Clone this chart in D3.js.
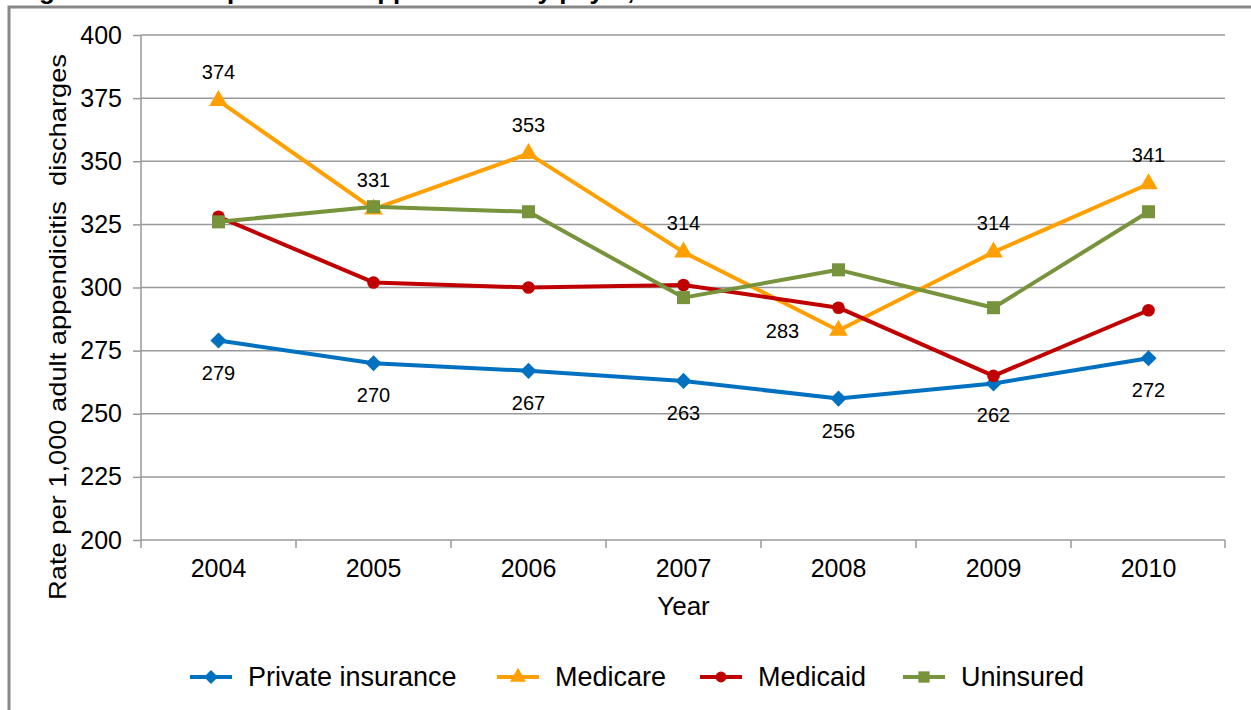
<html>
<head>
<script src='https://d3js.org/d3.v7.min.js'></script>
<style>
body {margin:0; background:white;}
text {font-family: Arial, 'Liberation Sans', sans-serif; fill:#000;}
</style>
</head>
<body>
<svg width=1251 height=710></svg>
<script>
// chart data
var years = ['2004', '2005', '2006', '2007', '2008', '2009', '2010'];
var privateIns = [279, 270, 267, 263, 256, 262, 272];
var medicare = [374, 331, 353, 314, 283, 314, 341];
var medicaid = [328, 302, 300, 301, 292, 265, 291];
var uninsured = [326, 332, 330, 296, 307, 292, 330];
var yTicks = [200, 225, 250, 275, 300, 325, 350, 375, 400];
var seriesNames = ['Private insurance', 'Medicare', 'Medicaid', 'Uninsured'];

var plotLeft = 141, plotRight = 1226, plotTop = 35, plotBottom = 540;

var svg = d3.select('svg');

var xScale = d3.scaleBand().domain(years).range([plotLeft, plotRight]);
var yScale = d3.scaleLinear().domain([200, 400]).range([plotBottom, plotTop]);
var cx = function(i) { return xScale(years[i]) + xScale.bandwidth() / 2; };

// outer frame (chart area border) and clipped title
svg.append('text')
   .attr('x', 16).attr('y', -1)
   .style('font-size', '26px').style('font-weight', 'bold')
   .text('Figure 2. Rate of perforated appendicitis by payer, 2004-2010');
svg.append('path')
   .attr('d', 'M9,720 L9,7 L1260,7')
   .attr('fill', 'none').attr('stroke', '#888').attr('stroke-width', 3);

// gridlines
svg.append('g').selectAll('line').data(yTicks.slice(1)).enter().append('line')
   .attr('x1', plotLeft).attr('x2', plotRight - 1)
   .attr('y1', function(d) { return yScale(d); })
   .attr('y2', function(d) { return yScale(d); })
   .attr('stroke', '#999').attr('stroke-width', 1.5);

// y axis
var yAxis = d3.axisLeft(yScale).tickValues(yTicks).tickSize(8).tickPadding(11);
var gy = svg.append('g').attr('transform', 'translate(' + plotLeft + ',0)').call(yAxis);
gy.selectAll('line').attr('stroke', '#999').attr('stroke-width', 1.5);
gy.select('.domain').attr('d', 'M0,' + plotTop + 'V' + (plotBottom + 8)).attr('stroke', '#999').attr('stroke-width', 1.5);
gy.selectAll('text').style('font-size', '25px').style('font-family', 'Arial, Liberation Sans').attr('fill', '#000');

// x axis
var xAxis = d3.axisBottom(xScale).tickSize(0).tickPadding(19);
var gx = svg.append('g').attr('transform', 'translate(0,' + plotBottom + ')').call(xAxis);
gx.select('.domain').attr('d', 'M' + plotLeft + ',0H' + (plotRight - 1)).attr('stroke', '#999').attr('stroke-width', 1.5);
gx.selectAll('text').style('font-size', '25px').style('font-family', 'Arial, Liberation Sans').attr('fill', '#000');
gx.append('g').selectAll('line').data(years.slice(1).concat(['end'])).enter().append('line')
   .attr('x1', function(d) { return d == 'end' ? plotRight - 1 : xScale(d); })
   .attr('x2', function(d) { return d == 'end' ? plotRight - 1 : xScale(d); })
   .attr('y1', 0).attr('y2', 8)
   .attr('stroke', '#999').attr('stroke-width', 1.5);

// axis titles
svg.append('text')
   .attr('x', (plotLeft + plotRight) / 2).attr('y', 615)
   .attr('text-anchor', 'middle').style('font-size', '26px')
   .text('Year');
svg.append('text')
   .attr('transform', 'translate(66,327) rotate(-90)')
   .attr('text-anchor', 'middle').style('font-size', '24px')
   .style('white-space', 'pre')
   .attr('textLength', 546).attr('lengthAdjust', 'spacingAndGlyphs')
   .text('Rate per 1,000 adult appendicitis  discharges');

// series (diamond = square turned 45deg, like Excel)
var series = [
  {name: seriesNames[0], values: privateIns, color: '#0070c0', shape: d3.symbolSquare, size: 130, rot: 45},
  {name: seriesNames[1], values: medicare, color: '#ffa000', shape: d3.symbolTriangle, size: 150, rot: 0},
  {name: seriesNames[2], values: medicaid, color: '#c00000', shape: d3.symbolCircle, size: 125, rot: 0},
  {name: seriesNames[3], values: uninsured, color: '#77933c', shape: d3.symbolSquare, size: 170, rot: 0}
];

var line = d3.line()
   .x(function(d, i) { return cx(i); })
   .y(function(d) { return yScale(d); });

series.forEach(function(s) {
  var g = svg.append('g');
  g.append('path').datum(s.values)
   .attr('d', line).attr('fill', 'none')
   .attr('stroke', s.color).attr('stroke-width', 4).attr('stroke-linejoin', 'round');
  g.selectAll('path.pt').data(s.values).enter().append('path')
   .attr('class', 'pt')
   .attr('d', d3.symbol().type(s.shape).size(s.size))
   .attr('transform', function(d, i) { return 'translate(' + cx(i) + ',' + yScale(d) + ') rotate(' + s.rot + ')'; })
   .attr('fill', s.color);
});

// data labels
var medicareLabel = svg.append('g');
medicare.forEach(function(v, i) {
  var below = years[i] == '2008';
  medicareLabel.append('text')
   .attr('x', below ? cx(i) - 56 : cx(i))
   .attr('y', below ? yScale(v) + 8 : yScale(v) - 22)
   .attr('text-anchor', 'middle').style('font-size', '20px').attr('fill', '#222')
   .text(v);
});
svg.append('g').selectAll('text').data(privateIns).enter().append('text')
   .attr('x', function(d, i) { return cx(i); })
   .attr('y', function(d) { return yScale(d) + 39; })
   .attr('text-anchor', 'middle').style('font-size', '20px').attr('fill', '#222')
   .text(function(d) { return d; });

// legend
var legendX = [190, 497, 700, 903];
var legend = svg.append('g').selectAll('g').data(series).enter().append('g')
   .attr('transform', function(d, i) { return 'translate(' + legendX[i] + ',677)'; });
legend.append('line')
   .attr('x1', 0).attr('x2', 42).attr('y1', 0).attr('y2', 0)
   .attr('stroke', function(d) { return d.color; }).attr('stroke-width', 4);
legend.append('path')
   .attr('d', function(d) { return d3.symbol().type(d.shape).size(d.size * 0.75)(); })
   .attr('transform', function(d) { return 'translate(21,0) rotate(' + d.rot + ')'; })
   .attr('fill', function(d) { return d.color; });
legend.append('text')
   .attr('x', 58).attr('y', 9)
   .style('font-size', '27px')
   .text(function(d) { return d.name; });
</script>
</body>
</html>
